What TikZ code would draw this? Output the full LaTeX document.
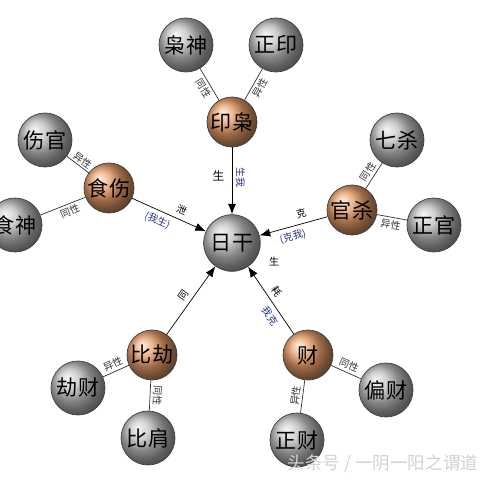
\documentclass[tikz,border=0pt]{standalone}
\usepackage{fontspec}
\newfontfamily\cjk{Noto Sans CJK SC}
\usetikzlibrary{arrows.meta,shadings}

\definecolor{tanball}{RGB}{230,156,104}
\definecolor{inkblue}{RGB}{40,50,130}

\begin{document}
\begin{tikzpicture}[x=0.03cm, y=-0.03cm
        , every node/.style={font=\cjk}
        , ggod/.style={circle, draw=black!75, line width=0.6pt, shading=ball
            , ball color=gray!50, minimum size=1.62cm, inner sep=0pt
            , font=\cjk\fontsize{18}{18}\selectfont}
        , ogod/.style={ggod, ball color=tanball, minimum size=1.5cm}
        , sun/.style={ggod, minimum size=1.7cm}
        , rel/.style={font=\cjk\fontsize{8.5}{8.5}\selectfont, sloped, inner sep=1pt}
        , relb/.style={rel, text=inkblue}
        , feed/.style={-{Latex[length=9pt,width=7pt]}, line width=0.6pt}
        , tie/.style={line width=0.6pt, black!80}
    ]
    \useasboundingbox (0,0) rectangle (480,480);

    %% day master in the middle
    \node[sun] (rigan) at (232,243) {日干};

    %% the five groups
    \node[ogod] (yinxiao) at (232,122) {印枭};
    \node[ogod] (shishang) at (109,188) {食伤};
    \node[ogod] (guansha) at (352,210) {官杀};
    \node[ogod] (bijie) at (152,355) {比劫};
    \node[ogod] (cai) at (308,355) {财};

    %% the ten gods
    \node[ggod] (xiaoshen) at (186,45) {枭神};
    \node[ggod] (zhengyin) at (276,45) {正印};
    \node[ggod] (shangguan) at (45,140) {伤官};
    \node[ggod] (shishen) at (15,225) {食神};
    \node[ggod] (qisha) at (397,140) {七杀};
    \node[ggod] (zhengguan) at (434,225) {正官};
    \node[ggod] (jiecai) at (78,388) {劫财};
    \node[ggod] (bijian) at (148,438) {比肩};
    \node[ggod] (piancai) at (386,390) {偏财};
    \node[ggod] (zhengcai) at (297,440) {正财};

    % arrows into the day master
    \draw[feed] (yinxiao) -- (rigan)
        node[pos=0.42, left=3pt] {生}
        node[relb, pos=0.45, above=2pt] {生我};
    \draw[feed] (shishang) -- (rigan)
        node[rel, pos=0.62, above=3pt] {泄}
        node[relb, pos=0.4, below=3pt] {(我生)};
    \draw[feed] (guansha) -- (rigan)
        node[rel, pos=0.35, above=3pt] {克}
        node[relb, pos=0.55, below=3pt] {(克我)};
    \draw[feed] (bijie) -- (rigan)
        node[rel, midway, above=3pt] {同};
    \draw[feed] (cai) -- (rigan)
        node[rel, pos=0.55, above=3pt] {耗}
        node[relb, pos=0.35, below=3pt] {我克};

    % same or other sex
    \draw[tie] (yinxiao) -- (xiaoshen) node[rel, midway, below=1pt] {同性};
    \draw[tie] (yinxiao) -- (zhengyin) node[rel, midway, below=1pt] {异性};
    \draw[tie] (shishang) -- (shangguan) node[rel, pos=0.45, above=0pt] {异性};
    \draw[tie] (shishang) -- (shishen) node[rel, pos=0.4, below=1pt] {同性};
    \draw[tie] (guansha) -- (qisha) node[rel, midway, above=1pt] {同性};
    \draw[tie] (guansha) -- (zhengguan) node[rel, midway, below=1pt] {异性};
    \draw[tie] (bijie) -- (jiecai) node[rel, midway, above=1pt] {异性};
    \draw[tie] (bijie) -- (bijian) node[rel, allow upside down, midway, above=1pt] {同性};
    \draw[tie] (cai) -- (piancai) node[rel, midway, above=1pt] {同性};
    \draw[tie] (cai) -- (zhengcai) node[rel, midway, above=1pt] {异性};

    \node[font=\cjk\fontsize{8.5}{8.5}\selectfont] (sheng) at (274,262) {生};

    % watermark
    \node[font=\cjk\fontsize{15}{15}\selectfont, text=gray!35] (mark) at (383,464)
        {头条号 / 一阴一阳之谓道};
\end{tikzpicture}
\end{document}
